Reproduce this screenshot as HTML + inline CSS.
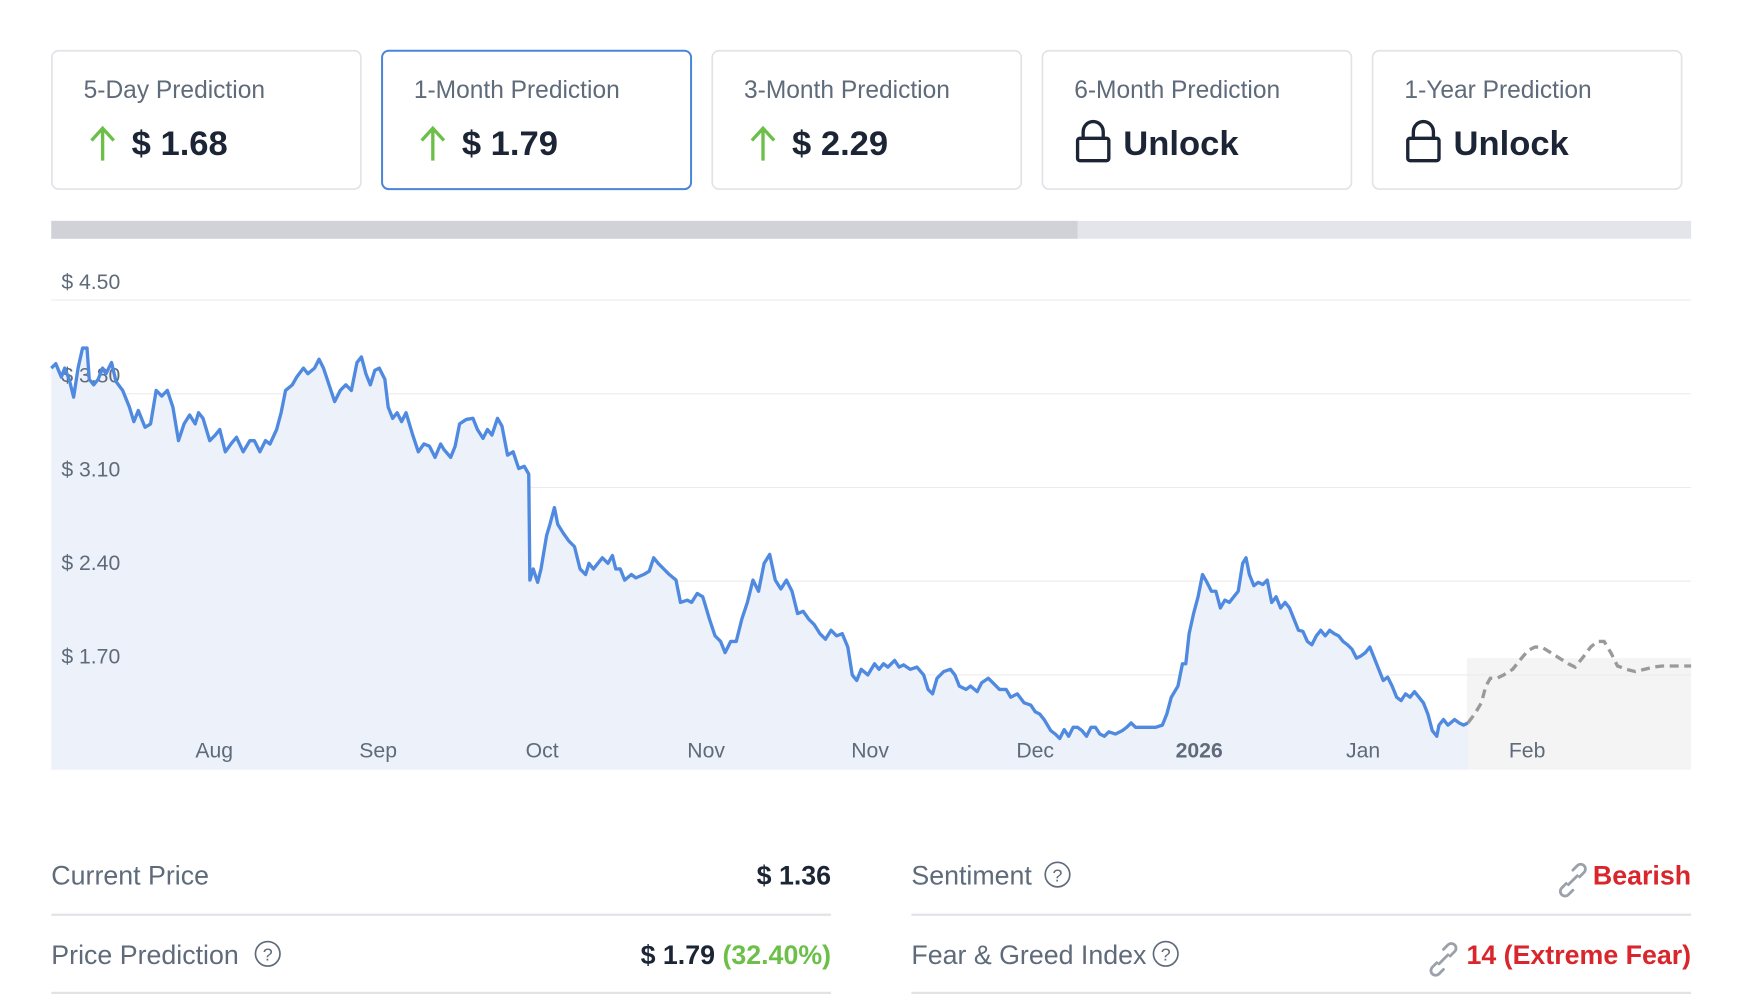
<!DOCTYPE html>
<html><head><meta charset="utf-8"><style>html,body{margin:0;padding:0;background:#fff}svg{display:block}</style></head><body>
<svg width="1748" height="1004" viewBox="0 0 1567 900" preserveAspectRatio="none" xmlns="http://www.w3.org/2000/svg" font-family="Liberation Sans, sans-serif">
<g fill="#fff" stroke="#e2e3e7" stroke-width="1.5">
<rect x="46.5" y="45.5" width="277" height="124" rx="6"/>
<rect x="342.5" y="45.5" width="277" height="124" rx="6" stroke="#4a86d8" stroke-width="1.8"/>
<rect x="638.5" y="45.5" width="277" height="124" rx="6"/>
<rect x="934.5" y="45.5" width="277" height="124" rx="6"/>
<rect x="1230.5" y="45.5" width="277" height="124" rx="6"/>
</g>
<g fill="#5f6b7a" font-size="22">
<text x="75" y="88">5-Day Prediction</text>
<text x="371" y="88">1-Month Prediction</text>
<text x="667" y="88">3-Month Prediction</text>
<text x="963" y="88">6-Month Prediction</text>
<text x="1259" y="88">1-Year Prediction</text>
</g>
<g stroke="#6cc04a" stroke-width="3" fill="none">
<path d="M92 144V116M82 126L92 115L102 126"/>
<path d="M388 144V116M378 126L388 115L398 126"/>
<path d="M684 144V116M674 126L684 115L694 126"/>
</g>
<g fill="#1c2535" font-size="31" font-weight="bold">
<text x="118" y="139">$ 1.68</text>
<text x="414" y="139">$ 1.79</text>
<text x="710" y="139">$ 2.29</text>
<text x="1007" y="139">Unlock</text>
<text x="1303" y="139">Unlock</text>
</g>
<g stroke="#1c2535" stroke-width="3" fill="none">
<rect x="966" y="124" width="28" height="20" rx="2"/><path d="M971 124v-6a9 9 0 0 1 18 0v6"/>
<rect x="1262" y="124" width="28" height="20" rx="2"/><path d="M1267 124v-6a9 9 0 0 1 18 0v6"/>
</g>
<rect x="46" y="198" width="1470" height="16" fill="#e4e5ea"/>
<rect x="46" y="198" width="920" height="16" fill="#d1d2d7"/>
<rect x="1315" y="590" width="201" height="100" fill="#f4f4f4"/>
<g stroke="#ececef" stroke-width="1">
<path d="M46 269H1516M46 353H1516M46 437H1516M46 521H1516M46 605H1516"/>
</g>
<path fill="#edf2fa" d="M46,330 L50,326 L55,338 L58,330 L62,340 L66,356 L70,330 L74,312 L78,312 L80,340 L84,345 L88,340 L92,330 L95,335 L100,325 L104,342 L110,350 L116,365 L120,378 L124,368 L130,383 L135,380 L140,350 L145,355 L150,350 L155,365 L160,395 L165,380 L170,372 L175,380 L178,370 L182,375 L188,395 L193,390 L197,385 L202,405 L207,398 L212,392 L218,405 L224,395 L228,395 L233,405 L238,395 L242,398 L248,385 L252,370 L256,350 L262,345 L266,338 L272,330 L276,335 L282,330 L286,322 L290,330 L295,345 L300,360 L305,350 L310,345 L315,350 L320,325 L324,320 L328,335 L332,345 L336,332 L340,330 L345,340 L348,365 L352,375 L356,370 L360,378 L364,370 L370,390 L375,405 L380,398 L385,400 L390,410 L395,398 L398,403 L404,410 L408,400 L412,380 L418,376 L424,375 L428,385 L433,393 L437,385 L441,390 L446,375 L450,382 L455,408 L460,405 L465,420 L470,418 L474,425 L475,520 L478,510 L482,522 L485,510 L490,480 L493,470 L497,455 L500,470 L505,478 L510,485 L515,490 L520,510 L525,515 L528,505 L532,510 L536,505 L540,500 L545,505 L549,498 L552,510 L556,510 L560,520 L566,515 L570,518 L577,515 L582,512 L586,500 L590,505 L595,510 L600,515 L606,520 L610,540 L616,538 L620,540 L625,532 L630,535 L636,555 L641,570 L646,575 L650,585 L655,575 L660,575 L665,555 L670,540 L675,520 L680,530 L685,505 L690,497 L695,520 L700,528 L705,520 L710,530 L715,550 L720,548 L725,555 L730,560 L735,568 L740,573 L745,565 L750,570 L755,568 L760,580 L764,605 L768,610 L772,600 L778,605 L784,595 L788,600 L792,595 L796,598 L802,592 L806,598 L810,596 L816,600 L822,598 L828,605 L832,618 L836,622 L840,608 L846,602 L852,600 L856,605 L860,615 L866,618 L870,615 L876,620 L880,612 L886,608 L890,612 L896,618 L902,618 L906,625 L912,622 L918,630 L924,632 L928,638 L932,640 L936,645 L942,655 L946,658 L950,662 L954,654 L958,660 L962,652 L966,652 L970,655 L974,660 L978,652 L982,652 L986,658 L990,660 L994,656 L1000,658 L1006,655 L1010,652 L1014,648 L1018,652 L1024,652 L1030,652 L1036,652 L1042,650 L1046,640 L1050,625 L1056,615 L1060,595 L1063,595 L1066,568 L1070,550 L1074,535 L1078,515 L1082,522 L1086,530 L1090,530 L1094,545 L1098,538 L1102,540 L1106,535 L1110,530 L1114,505 L1117,500 L1120,515 L1124,525 L1128,522 L1132,524 L1136,520 L1140,540 L1144,535 L1148,545 L1152,540 L1156,545 L1160,555 L1164,565 L1168,566 L1172,575 L1176,578 L1180,570 L1184,565 L1188,570 L1192,565 L1196,568 L1200,570 L1204,575 L1208,578 L1212,582 L1216,590 L1220,588 L1224,585 L1228,580 L1232,590 L1236,600 L1240,610 L1244,607 L1248,615 L1252,625 L1256,628 L1260,622 L1264,625 L1268,620 L1272,625 L1276,630 L1280,640 L1284,655 L1288,660 L1290,650 L1294,645 L1298,650 L1304,645 L1308,648 L1312,650 L1316,648 L1316,690 L46,690 Z"/>
<g fill="#5f6b7a" font-size="19">
<text x="55" y="259">$ 4.50</text>
<text x="55" y="343">$ 3.80</text>
<text x="55" y="427">$ 3.10</text>
<text x="55" y="511">$ 2.40</text>
<text x="55" y="595">$ 1.70</text>
<g text-anchor="middle">
<text x="192" y="679">Aug</text><text x="339" y="679">Sep</text><text x="486" y="679">Oct</text><text x="633" y="679">Nov</text><text x="780" y="679">Nov</text><text x="928" y="679">Dec</text><text x="1075" y="679" font-weight="bold">2026</text><text x="1222" y="679">Jan</text><text x="1369" y="679">Feb</text>
</g></g>
<path fill="none" stroke="#4f8ae0" stroke-width="3" stroke-linejoin="round" d="M46,330 L50,326 L55,338 L58,330 L62,340 L66,356 L70,330 L74,312 L78,312 L80,340 L84,345 L88,340 L92,330 L95,335 L100,325 L104,342 L110,350 L116,365 L120,378 L124,368 L130,383 L135,380 L140,350 L145,355 L150,350 L155,365 L160,395 L165,380 L170,372 L175,380 L178,370 L182,375 L188,395 L193,390 L197,385 L202,405 L207,398 L212,392 L218,405 L224,395 L228,395 L233,405 L238,395 L242,398 L248,385 L252,370 L256,350 L262,345 L266,338 L272,330 L276,335 L282,330 L286,322 L290,330 L295,345 L300,360 L305,350 L310,345 L315,350 L320,325 L324,320 L328,335 L332,345 L336,332 L340,330 L345,340 L348,365 L352,375 L356,370 L360,378 L364,370 L370,390 L375,405 L380,398 L385,400 L390,410 L395,398 L398,403 L404,410 L408,400 L412,380 L418,376 L424,375 L428,385 L433,393 L437,385 L441,390 L446,375 L450,382 L455,408 L460,405 L465,420 L470,418 L474,425 L475,520 L478,510 L482,522 L485,510 L490,480 L493,470 L497,455 L500,470 L505,478 L510,485 L515,490 L520,510 L525,515 L528,505 L532,510 L536,505 L540,500 L545,505 L549,498 L552,510 L556,510 L560,520 L566,515 L570,518 L577,515 L582,512 L586,500 L590,505 L595,510 L600,515 L606,520 L610,540 L616,538 L620,540 L625,532 L630,535 L636,555 L641,570 L646,575 L650,585 L655,575 L660,575 L665,555 L670,540 L675,520 L680,530 L685,505 L690,497 L695,520 L700,528 L705,520 L710,530 L715,550 L720,548 L725,555 L730,560 L735,568 L740,573 L745,565 L750,570 L755,568 L760,580 L764,605 L768,610 L772,600 L778,605 L784,595 L788,600 L792,595 L796,598 L802,592 L806,598 L810,596 L816,600 L822,598 L828,605 L832,618 L836,622 L840,608 L846,602 L852,600 L856,605 L860,615 L866,618 L870,615 L876,620 L880,612 L886,608 L890,612 L896,618 L902,618 L906,625 L912,622 L918,630 L924,632 L928,638 L932,640 L936,645 L942,655 L946,658 L950,662 L954,654 L958,660 L962,652 L966,652 L970,655 L974,660 L978,652 L982,652 L986,658 L990,660 L994,656 L1000,658 L1006,655 L1010,652 L1014,648 L1018,652 L1024,652 L1030,652 L1036,652 L1042,650 L1046,640 L1050,625 L1056,615 L1060,595 L1063,595 L1066,568 L1070,550 L1074,535 L1078,515 L1082,522 L1086,530 L1090,530 L1094,545 L1098,538 L1102,540 L1106,535 L1110,530 L1114,505 L1117,500 L1120,515 L1124,525 L1128,522 L1132,524 L1136,520 L1140,540 L1144,535 L1148,545 L1152,540 L1156,545 L1160,555 L1164,565 L1168,566 L1172,575 L1176,578 L1180,570 L1184,565 L1188,570 L1192,565 L1196,568 L1200,570 L1204,575 L1208,578 L1212,582 L1216,590 L1220,588 L1224,585 L1228,580 L1232,590 L1236,600 L1240,610 L1244,607 L1248,615 L1252,625 L1256,628 L1260,622 L1264,625 L1268,620 L1272,625 L1276,630 L1280,640 L1284,655 L1288,660 L1290,650 L1294,645 L1298,650 L1304,645 L1308,648 L1312,650 L1316,648"/>
<path fill="none" stroke="#9a9a9a" stroke-width="3" stroke-dasharray="8 5" d="M1316,648 L1322,640 L1328,630 L1332,615 L1336,608 L1342,608 L1348,605 L1356,600 L1364,590 L1370,583 L1376,580 L1382,580 L1390,585 L1398,590 L1406,595 L1412,598 L1420,588 L1426,580 L1432,575 L1438,575 L1444,585 L1450,597 L1458,600 L1466,602 L1474,600 L1482,598 L1490,597 L1500,597 L1516,597"/>
<g stroke="#e2e3e7" stroke-width="2"><path d="M46 820H745M46 890H745M817 820H1516M817 890H1516"/></g>
<g font-size="24" fill="#5f6b7a">
<text x="46" y="793">Current Price</text>
<text x="46" y="864">Price Prediction</text>
<text x="817" y="793">Sentiment</text>
<text x="817" y="864">Fear &amp; Greed Index</text>
</g>
<g fill="none" stroke="#5f6b7a" stroke-width="1.5">
<circle cx="240" cy="855" r="11"/><circle cx="948" cy="784" r="11"/><circle cx="1045" cy="855" r="11"/>
</g>
<g font-size="16" fill="#5f6b7a" text-anchor="middle"><text x="240" y="861">?</text><text x="948" y="790">?</text><text x="1045" y="861">?</text></g>
<g font-size="24" font-weight="bold" text-anchor="end">
<text x="745" y="793" fill="#1c2535">$ 1.36</text>
<text x="745" y="864" fill="#1c2535">$ 1.79 <tspan fill="#6cc04a">(32.40%)</tspan></text>
<text x="1516" y="793" fill="#d9262c">Bearish</text>
<text x="1516" y="864" fill="#d9262c">14 (Extreme Fear)</text>
</g>
<g fill="none" stroke="#9aa1ab" stroke-width="2.5" stroke-linecap="round">
<path d="M1406 793l8-8M1410 780l4-4a4 4 0 0 1 6 6l-4 4M1410 798l-4 4a4 4 0 0 1-6-6l4-4"/>
<path d="M1290 864l8-8M1294 851l4-4a4 4 0 0 1 6 6l-4 4M1294 869l-4 4a4 4 0 0 1-6-6l4-4"/>
</g>
</svg>
</body></html>
